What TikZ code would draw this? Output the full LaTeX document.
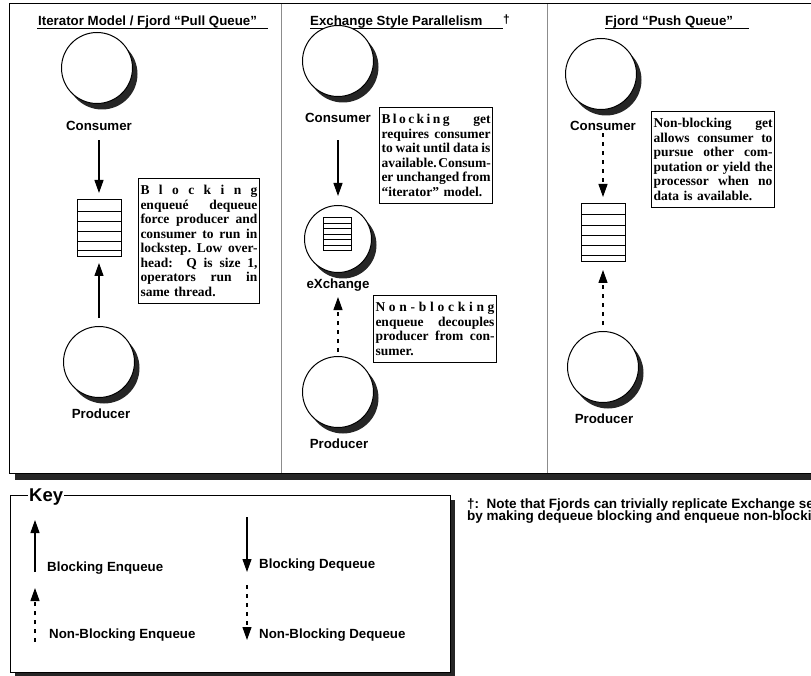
\documentclass[tikz,border=0pt]{standalone}
\usepackage{fontspec}
\setmainfont{Liberation Serif}
\setsansfont{Liberation Sans}
\usetikzlibrary{arrows.meta, positioning, shadows}

% one justified line of a note box
\newcommand\jlw{100pt}
\newcommand\jl[1]{\makebox[\jlw][s]{\frenchspacing\spaceskip=.25em plus 1fil minus .12em\relax #1}\\}

\begin{document}
\begin{tikzpicture}[x=1pt, y=-1pt,
  >={Triangle[length=13pt, width=9pt]},
  lbl/.style={font=\sffamily\bfseries\fontsize{13.3pt}{15pt}\selectfont, inner sep=1pt, anchor=base},
  ttl/.style={font=\sffamily\bfseries\fontsize{13.3pt}{15pt}\selectfont, inner sep=0pt, anchor=base west},
  proc/.style={circle, draw, line width=1pt, fill=white, minimum size=71pt, inner sep=0pt,
    drop shadow={shadow xshift=5pt, shadow yshift=-6pt, fill=black!85, opacity=1}},
  queue/.style={draw, line width=1pt, fill=white, minimum width=44pt, minimum height=57pt, inner sep=0pt, outer sep=0pt},
  note/.style={draw, line width=1pt, fill=white, anchor=north west, align=left, inner xsep=2pt, inner ysep=7pt,
    text width=#1, execute at begin node={\def\jlw{#1}},
    font=\rmfamily\bfseries\fontsize{13.5pt}{14.5pt}\selectfont},
  fnote/.style={font=\sffamily\bfseries\fontsize{13.5pt}{12pt}\selectfont, inner sep=0pt,
    anchor=north west, align=left},
  blk/.style={->, line width=1.2pt},
  nblk/.style={->, line width=1.2pt, dash pattern=on 4pt off 5pt}]
  \useasboundingbox (0,0) rectangle (811,676);
  \clip (0,0) rectangle (811,676);

  % main frame and panels
  \fill[black!85] (15,10) rectangle (840,480);
  \fill[white] (9,4) rectangle (835,473);
  \draw[black!45, line width=1pt] (281,4) -- (281,473) (547,4) -- (547,473);
  \draw[line width=1pt] (9,4) rectangle (835,473);

  % titles
  \node[ttl] (t1) at (38,26) {Iterator Model / Fjord “Pull Queue”};
  \draw[line width=0.8pt] (37,28.5) -- (268,28.5);
  \node[ttl] (t2) at (310,26) {Exchange Style Parallelism};
  \draw[line width=0.8pt] (310,28.5) -- (503,28.5);
  \node[ttl, font=\sffamily\bfseries\fontsize{12pt}{12pt}\selectfont] (dag) at (503,24) {†};
  \node[ttl] (t3) at (605,26) {Fjord “Push Queue”};
  \draw[line width=0.8pt] (605,28.5) -- (749,28.5);

  % pull queue
  \node[proc] (cons1) at (97,68) {};
  \node[lbl] (c1lbl) at (99,131) {Consumer};
  \node[queue] (q1) at (99,228.5) {};
  \foreach \yy in {12,22,32,42,51}
    \draw[line width=1pt] ([yshift=-\yy pt]q1.north west) -- ([yshift=-\yy pt]q1.north east);
  \node[proc] (prod1) at (99,362) {};
  \node[lbl] (p1lbl) at (101,418) {Producer};
  \draw[blk, shorten <=8pt, shorten >=7pt] (c1lbl) -- (q1);
  \draw[blk, shorten <=8pt, shorten >=6pt] (prod1) -- (q1);
  \node[note=117pt] (n1) at (138,178) {\jl{B\hfill l\hfill o\hfill c\hfill k\hfill i\hfill n\hfill g}\jl{enqueu\'e dequeue}\jl{force producer and}\jl{consumer to run in}\jl{lockstep. Low over-}\jl{head:\ \ Q is size 1,}\jl{operators run in}same thread.};

  % exchange
  \node[proc] (cons2) at (338,61) {};
  \node[lbl] (c2lbl) at (338,123) {Consumer};
  \node[proc, minimum size=67pt] (exch) at (338,239) {};
  \node[queue, minimum width=28pt, minimum height=33pt] (q2) at (337,234) {};
  \foreach \yy in {5.5,11,16.5,22,27.5}
    \draw[line width=0.8pt] ([yshift=-\yy pt]q2.north west) -- ([yshift=-\yy pt]q2.north east);
  \node[lbl] (x2lbl) at (338,288) {eXchange};
  \node[proc] (prod2) at (338,392) {};
  \node[lbl] (p2lbl) at (339,448) {Producer};
  \draw[blk, shorten <=16pt, shorten >=9pt] (c2lbl) -- (exch);
  \draw[nblk, shorten <=4pt, shorten >=5pt] (prod2) -- (x2lbl);
  \node[note=109pt] (n2) at (379,107) {\jl{{\addfontfeature{LetterSpace=18}Blocking} get}\jl{requires consumer}\jl{to wait until data is}\jl{available. Consum-}\jl{er unchanged from}“iterator” model.};
  \node[note=119pt] (n3) at (373,295) {\jl{N\hfill o\hfill n\hfill -\hfill b\hfill l\hfill o\hfill c\hfill k\hfill i\hfill n\hfill g}\jl{enqueue decouples}\jl{producer from con-}sumer.};

  % push queue
  \node[proc] (cons3) at (601,74) {};
  \node[lbl] (c3lbl) at (603,131) {Consumer};
  \node[queue, minimum height=58pt] (q3) at (603,233) {};
  \foreach \yy in {11,22,32,42,52}
    \draw[line width=1pt] ([yshift=-\yy pt]q3.north west) -- ([yshift=-\yy pt]q3.north east);
  \node[proc] (prod3) at (603,367) {};
  \node[lbl] (p3lbl) at (604,423) {Producer};
  \draw[nblk, shorten <=1pt, shorten >=7pt] (c3lbl) -- (q3);
  \draw[nblk, shorten <=6pt, shorten >=8pt] (prod3) -- (q3);
  \node[note=119pt] (n4) at (651,111) {\jl{Non-blocking get}\jl{allows consumer to}\jl{pursue other com-}\jl{putation or yield the}\jl{processor when no}data is available.};

  % key
  \fill[black!85] (15,500) rectangle (455,677);
  \draw[line width=1pt, fill=white] (10,495) rectangle (450,672);
  \node[font=\sffamily\bfseries\fontsize{18.5pt}{20pt}\selectfont, fill=white, inner sep=1pt, anchor=base west] (key) at (28,501.5) {Key};
  \coordinate (be0) at (35,572);
  \coordinate (be1) at (35,520);
  \draw[blk] (be0) -- (be1);
  \node[lbl, anchor=base west] (belbl) at (46,571) {Blocking Enqueue};
  \coordinate (ne0) at (35,642);
  \coordinate (ne1) at (35,588);
  \draw[nblk] (ne0) -- (ne1);
  \node[lbl, anchor=base west] (nelbl) at (48,638) {Non-Blocking Enqueue};
  \coordinate (bd0) at (247,517);
  \coordinate (bd1) at (247,572);
  \draw[blk] (bd0) -- (bd1);
  \node[lbl, anchor=base west] (bdlbl) at (258,568) {Blocking Dequeue};
  \coordinate (nd0) at (247,585);
  \coordinate (nd1) at (247,640);
  \draw[nblk] (nd0) -- (nd1);
  \node[lbl, anchor=base west] (ndlbl) at (258,638) {Non-Blocking Dequeue};

  % footnote
  \node[fnote] (fn) at (467,498.5) {†:\ \ Note that Fjords can trivially replicate Exchange semantics\\[-2pt]by making dequeue blocking and enqueue non-blocking.};
\end{tikzpicture}
\end{document}
